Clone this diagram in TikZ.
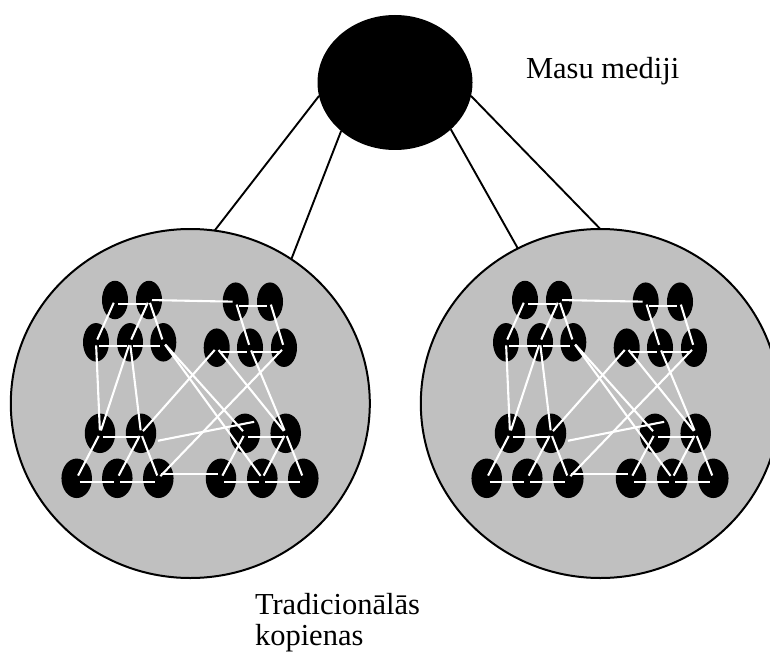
\documentclass[tikz,border=0pt]{standalone}
\usepackage{fontspec}
\setmainfont{Liberation Serif}
\usetikzlibrary{shapes.geometric}
\definecolor{commgray}{HTML}{C0C0C0}
\begin{document}
\begin{tikzpicture}
  [x=1pt,y=-1pt,
   every node/.style={inner sep=0pt,outer sep=0pt},
   label text/.style={font=\fontsize{30.5pt}{30.7pt}\selectfont,align=left},
   media/.style={ellipse,fill=black,minimum width=155pt,minimum height=135pt},
   community/.style={ellipse,draw=black,line width=2pt,fill=commgray,
                     minimum width=359pt,minimum height=349pt},
   member/.style={ellipse,fill=black,minimum width=26pt,minimum height=38.5pt},
   wide member/.style={ellipse,fill=black,minimum width=30.5pt,minimum height=39.5pt},
   link/.style={black,line width=1.9pt},
   tie/.style={white,line width=2.1pt,shorten <=3pt,shorten >=3pt}]
  \useasboundingbox (0,0) rectangle (770,655);
  \node[media] (media) at (395,82.5) {};
  \node[label text,anchor=base west] (mediatext) at (526,78.3) {Masu mediji};
  \foreach \g/\dx in {l/0,r/410} {
    \begin{scope}[xshift=\dx pt]
      \node[community] (\g c) at (190.3,403.5) {};
      % upper groups
      \foreach \n/\x/\y in {A1/115/300,A2/149/300,A3/235.7/301.7,A4/270/301.7,
                            B1/96/342.3,B2/130/342.3,B3/163.3/342.3,
                            B4/216.7/347.7,B5/250/347.7,B6/284/347.7}
        \node[member] (\g\n) at (\x,\y) {};
      % lower groups
      \foreach \n/\x/\y in {C1/100/433.3,C2/141/433.3,C3/245/433.3,C4/285.7/433.3,
                            D1/76.7/478.3,D2/117.3/478.3,D3/158.3/478.3,
                            D4/221/478.3,D5/262.3/478.3,D6/303.3/478.3}
        \node[wide member] (\g\n) at (\x,\y) {};
      % ties in a row
      \foreach \a/\b in {A1/A2,A3/A4,B1/B2,B2/B3,B4/B5,B5/B6,
                         C1/C2,C3/C4,D1/D2,D2/D3,D4/D5,D5/D6}
        \draw[tie] ([yshift=-4pt]\g\a.center) -- ([yshift=-4pt]\g\b.center);
      \draw[tie] (\g A2.center) -- (\g A3.center);
      \draw[tie] ([yshift=4pt]\g D3.center) -- ([yshift=4pt]\g D4.center);
      \draw[tie] (\g C2.-30) -- (\g C3.45);
      % ties across
      \foreach \a/\b in {A1/B1,A2/B2,A2/B3,A3/B5,A4/B6,
                         B1/C1,B2/C1,B2/C2,B3/C3,B3/D5,B4/C2,B4/C4,B5/C4,B6/D3,
                         C1/D1,C2/D2,C2/D3,C3/D4,C4/D5,C4/D6}
        \draw[tie] (\g\a.center) -- (\g\b.center);
    \end{scope}
  }
  \draw[link] (media.190) -- (lc.82);
  \draw[link] (media.222) -- (lc.55);
  \draw[link] (media.350) -- (rc.90);
  \draw[link] (media.320) -- (rc.118);
  \node[label text,anchor=base west] (commtext) at (255,645) {Tradicionālās\\kopienas};
\end{tikzpicture}
\end{document}
